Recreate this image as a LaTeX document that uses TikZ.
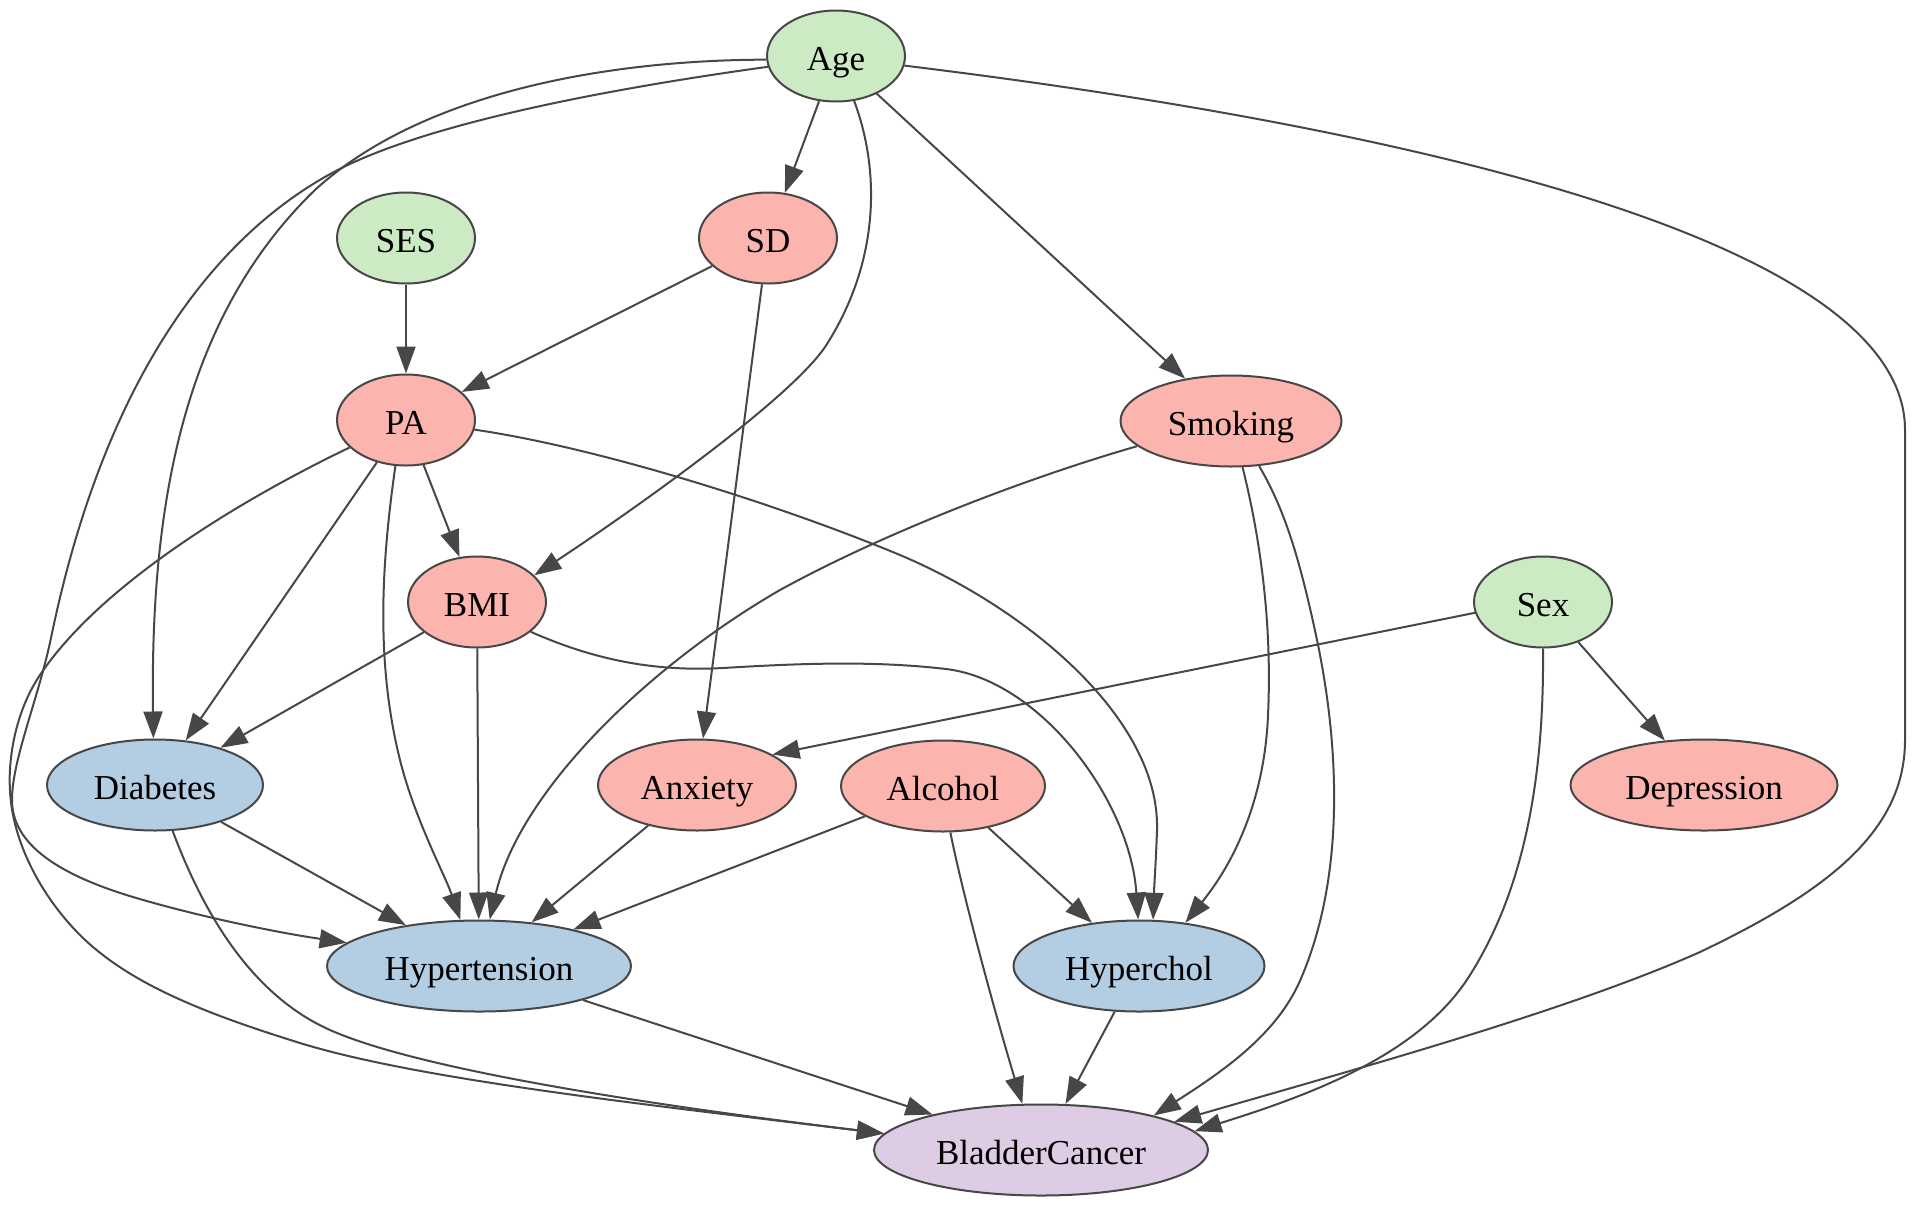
\documentclass[tikz,border=0pt]{standalone}
\usepackage{fontspec}
\setmainfont{Liberation Serif}
\usetikzlibrary{arrows.meta,shapes.geometric}
\definecolor{cgreen}{HTML}{CCEBC5}
\definecolor{cred}{HTML}{FBB4AE}
\definecolor{cblue}{HTML}{B3CDE3}
\definecolor{cpurple}{HTML}{DECBE4}
\definecolor{lc}{HTML}{474747}
\begin{document}
\begin{tikzpicture}[x=0.5pt,y=-0.5pt,
  nd/.style={ellipse, draw=lc, line width=1pt, inner sep=0pt, minimum height=45.5pt,
    text height=14pt, text depth=0pt, font=\fontsize{17.5}{21}\selectfont},
  gn/.style={nd, fill=cgreen},
  rd/.style={nd, fill=cred},
  bl/.style={nd, fill=cblue},
  pu/.style={nd, fill=cpurple},
  ed/.style={draw=lc, line width=1pt, -{Triangle[length=13.5pt,width=9.5pt]}}]
\useasboundingbox (0,0) rectangle (1920,1205);
% nodes
\node[gn, minimum width=69pt]  (Age)          at (836,56)   {Age};
\node[gn, minimum width=69pt]  (SES)          at (406,238)  {SES};
\node[rd, minimum width=69pt]  (SD)           at (768,238)  {SD};
\node[rd, minimum width=69pt]  (PA)           at (406,420)  {PA};
\node[rd, minimum width=110.5pt] (Smoking)    at (1231,421) {Smoking};
\node[rd, minimum width=69pt]  (BMI)          at (477,602)  {BMI};
\node[gn, minimum width=69pt]  (Sex)          at (1543,602) {Sex};
\node[bl, minimum width=108pt] (Diabetes)     at (155,785)  {Diabetes};
\node[rd, minimum width=99pt]  (Anxiety)      at (697,785)  {Anxiety};
\node[rd, minimum width=102pt] (Alcohol)      at (943,786)  {Alcohol};
\node[rd, minimum width=133.5pt] (Depression) at (1704,785) {Depression};
\node[bl, minimum width=152pt] (Hypertension) at (479,966)  {Hypertension};
\node[bl, minimum width=125.5pt] (Hyperchol)  at (1139,966) {Hyperchol};
\node[pu, minimum width=167pt] (BladderCancer) at (1041,1150) {BladderCancer};
% straight edges
\draw[ed] (Age) -- (SD);
\draw[ed] (Age) -- (Smoking);
\draw[ed] (SES) -- (PA);
\draw[ed] (SD) -- (PA);
\draw[ed] (SD) -- (Anxiety);
\draw[ed] (PA) -- (BMI);
\draw[ed] (PA) -- (Diabetes);
\draw[ed] (BMI) -- (Diabetes);
\draw[ed] (BMI) -- (Hypertension);
\draw[ed] (Diabetes) -- (Hypertension);
\draw[ed] (Anxiety) -- (Hypertension);
\draw[ed] (Alcohol) -- (Hypertension);
\draw[ed] (Alcohol) -- (Hyperchol);
\draw[ed] (Hypertension) -- (BladderCancer);
\draw[ed] (Hyperchol) -- (BladderCancer);
\draw[ed] (Sex) -- (Depression);
\draw[ed] (Sex.189) -- (Anxiety.22);
% curved edges
\draw[ed] (Age.292) .. controls (880,170) and (880,260) .. (827,344)
   .. controls (790,403) and (596,535) .. (BMI.25);
\draw[ed] (Age.183) .. controls (600,60) and (420,95) .. (316,189)
   .. controls (185,315) and (150,500) .. (Diabetes.92);
\draw[ed] (Age.189) .. controls (600,90) and (420,125) .. (332,173)
   .. controls (200,245) and (100,400) .. (51,638)
   .. controls (38,700) and (12,760) .. (12,800)
   .. controls (12,845) and (60,875) .. (133,897)
   .. controls (200,917) and (280,933) .. (Hypertension.170);
\draw[ed] (Age.352) .. controls (1350,120) and (1905,230) .. (1905,430)
   -- (1905,740) .. controls (1905,830) and (1830,890) .. (1700,952)
   .. controls (1570,1010) and (1360,1068) .. (BladderCancer.12);
\draw[ed] (PA.206) .. controls (240,500) and (100,585) .. (40,675)
   .. controls (15,712) and (8,760) .. (10,790)
   .. controls (12,840) and (40,895) .. (80,935)
   .. controls (130,985) and (210,1015) .. (300,1043)
   .. controls (420,1080) and (650,1105) .. (BladderCancer.174);
\draw[ed] (Diabetes.291) .. controls (195,890) and (240,990) .. (330,1030)
   .. controls (420,1070) and (650,1105) .. (BladderCancer.174);
\draw[ed] (PA.257) .. controls (382,560) and (375,660) .. (400,760)
   .. controls (415,820) and (445,875) .. (Hypertension.112);
\draw[ed] (PA.352) .. controls (600,448) and (780,505) .. (900,555)
   .. controls (1030,610) and (1160,720) .. (1157,830)
   .. controls (1156,860) and (1154,890) .. (Hyperchol.73);
\draw[ed] (BMI.331) .. controls (590,658) and (650,672) .. (723,668)
   .. controls (790,664) and (870,660) .. (946,669)
   .. controls (1040,680) and (1130,800) .. (Hyperchol.91);
\draw[ed] (Smoking.195) .. controls (1020,480) and (880,535) .. (780,590)
   .. controls (650,665) and (520,790) .. (Hypertension.77);
\draw[ed] (Smoking.284) .. controls (1262,545) and (1272,630) .. (1268,715)
   .. controls (1265,790) and (1240,855) .. (Hyperchol.43);
\draw[ed] (Smoking.302) .. controls (1285,510) and (1300,560) .. (1317,640)
   .. controls (1340,750) and (1345,880) .. (1299,983)
   .. controls (1275,1035) and (1225,1070) .. (BladderCancer.17);
\draw[ed] (Sex.270) .. controls (1544,760) and (1530,880) .. (1470,975)
   .. controls (1420,1055) and (1310,1095) .. (BladderCancer.7);
\draw[ed] (Alcohol.279) .. controls (965,905) and (1000,1030) .. (BladderCancer.112);
\end{tikzpicture}
\end{document}
